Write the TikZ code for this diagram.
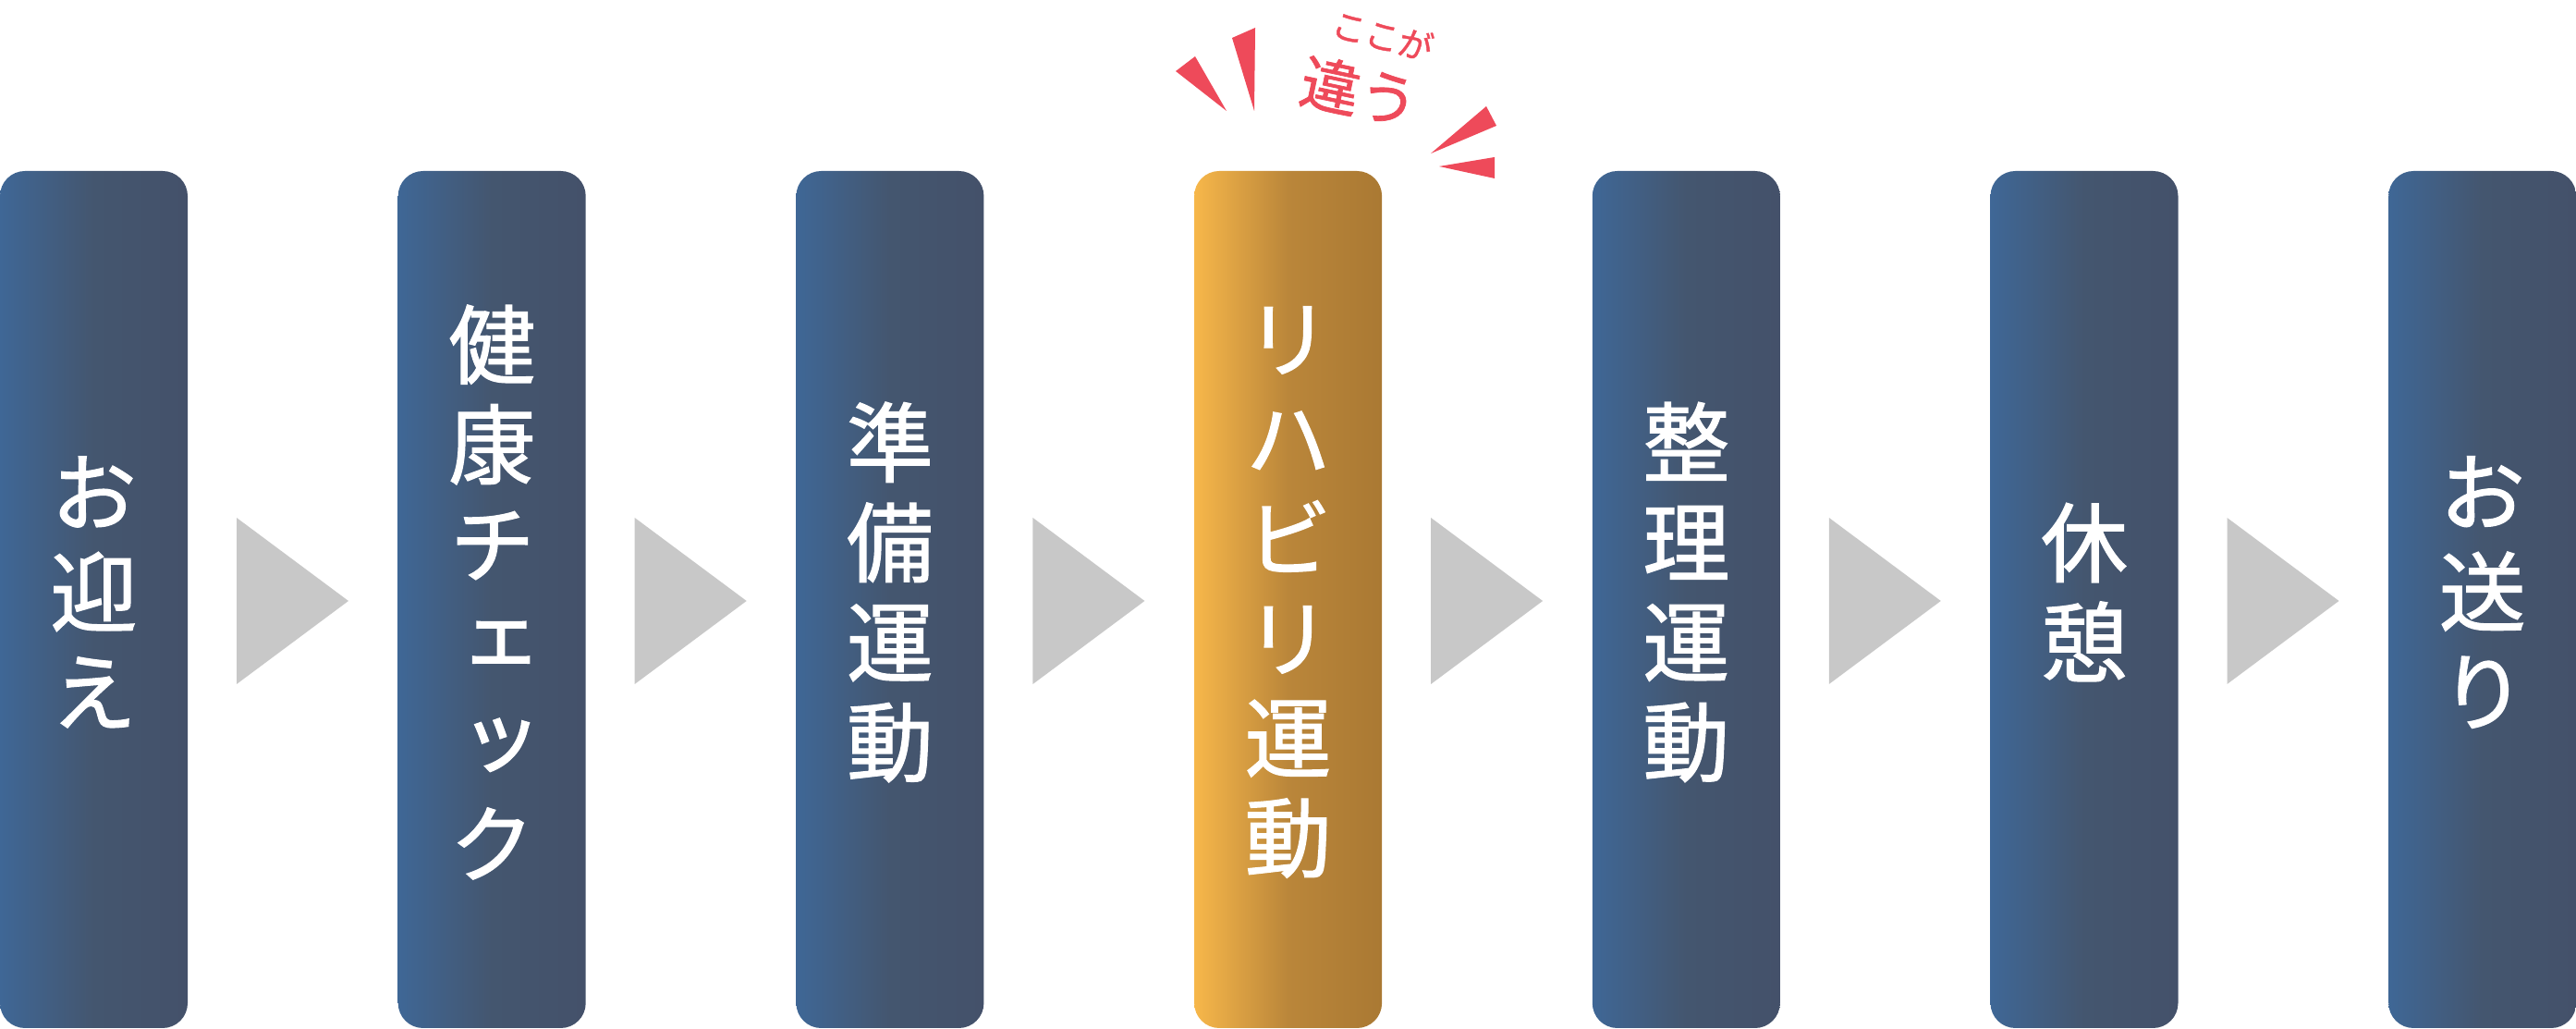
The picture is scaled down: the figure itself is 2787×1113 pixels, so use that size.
\documentclass[tikz,border=0pt]{standalone}
\usepackage{fontspec}
\newfontfamily\jpv[RawFeature=+vert, FakeBold=1.3]{Noto Sans CJK JP}
\newfontfamily\jph[FakeBold=1.1]{Noto Sans CJK JP}
\usetikzlibrary{calc}
\definecolor{blueL}{HTML}{3F6796}
\definecolor{blueM}{HTML}{44566F}
\definecolor{blueR}{HTML}{44516A}
\definecolor{goldL}{HTML}{F7B74A}
\definecolor{goldM}{HTML}{BA863A}
\definecolor{goldR}{HTML}{AA7933}
\definecolor{triGray}{HTML}{C8C8C8}
\definecolor{burstRed}{HTML}{EE4A5A}
\begin{document}
\begin{tikzpicture}[x=1pt,y=1pt,
  stepbox/.style={rounded corners=27pt, minimum width=203pt, minimum height=927pt,
    inner sep=0pt, outer sep=0pt, anchor=south west},
  bluebox/.style={stepbox, left color=blueL, right color=blueR, middle color=blueM},
  goldbox/.style={stepbox, left color=goldL, right color=goldR, middle color=goldM},
  steptext/.style={text=white, font=\jpv\fontsize{94}{108}\selectfont, align=center, inner sep=0pt},
  arrowtri/.style={fill=triGray},
  burst/.style={fill=burstRed},
  calltext/.style={text=burstRed, inner sep=0pt}]
\useasboundingbox (0,0) rectangle (2787,1113);

% boxes
\node[bluebox] (b1) at (0,1) {};
\node[bluebox] (b2) at (430.7,1) {};
\node[bluebox] (b3) at (861.4,1) {};
\node[goldbox] (b4) at (1292.1,1) {};
\node[bluebox] (b5) at (1722.8,1) {};
\node[bluebox] (b6) at (2153.5,1) {};
\node[bluebox] (b7) at (2584.2,1) {};

% texts
\node[steptext] (t1) at ($(b1.center)+(0,8)$) {お\\迎\\え};
\node[steptext] (t2) at ($(b2.center)+(0,8)$) {健\\康\\チ\\ェ\\ッ\\ク};
\node[steptext] (t3) at ($(b3.center)+(0,8)$) {準\\備\\運\\動};
\node[steptext] (t4) at ($(b4.center)+(0,8)$) {リ\\ハ\\ビ\\リ\\運\\動};
\node[steptext] (t5) at ($(b5.center)+(0,8)$) {整\\理\\運\\動};
\node[steptext] (t6) at ($(b6.center)+(0,8)$) {休\\憩};
\node[steptext] (t7) at ($(b7.center)+(0,8)$) {お\\送\\り};

% arrows between boxes
\foreach \a in {b1,b2,b3,b4,b5,b6}{
  \fill[arrowtri] ($(\a.east)+(53,88.5)$) -- ($(\a.east)+(174,-1.5)$) -- ($(\a.east)+(53,-91.5)$) -- cycle;
}

% burst marks
\fill[burst] (1272,1036) -- (1293,1052) -- (1327,993) -- cycle;
\fill[burst] (1333,1072) -- (1358,1083) -- (1357,993) -- cycle;
\fill[burst] (1608,998) -- (1619,977) -- (1548,947) -- cycle;
\fill[burst] (1617,943) -- (1617,920) -- (1557,933) -- cycle;

% callout text
\node[calltext, font=\jph\fontsize{37}{40}\selectfont, rotate=-15] (c1) at (1496,1075) {ここが};
\node[calltext, font=\jph\fontsize{64}{66}\selectfont, rotate=-12] (c2) at (1471,1014) {違う};
\end{tikzpicture}
\end{document}
